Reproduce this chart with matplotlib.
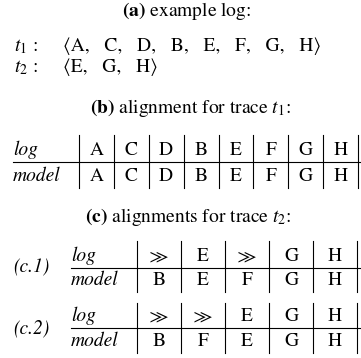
import matplotlib
matplotlib.use('Agg')
from matplotlib import pyplot as plt

plt.rcParams['font.family'] = ['STIXGeneral', 'DejaVu Serif']
plt.rcParams['mathtext.fontset'] = 'stix'

# example log
trace1 = ['A', 'C', 'D', 'B', 'E', 'F', 'G', 'H']
trace2 = ['E', 'G', 'H']

# (b) alignment for t1
b_log = ['A', 'C', 'D', 'B', 'E', 'F', 'G', 'H']
b_model = ['A', 'C', 'D', 'B', 'E', 'F', 'G', 'H']

# (c) alignments for t2
c1_log = ['\u226b', 'E', '\u226b', 'G', 'H']
c1_model = ['B', 'E', 'F', 'G', 'H']
c2_log = ['\u226b', '\u226b', 'E', 'G', 'H']
c2_model = ['B', 'F', 'E', 'G', 'H']

FS = 14
W, H = 361, 358

fig = plt.figure(figsize=(W / 100, H / 100), dpi=100)
ax = fig.add_axes([0, 0, 1, 1])
ax.set_xlim(0, W)
ax.set_ylim(H, 0)
ax.axis('off')


def tuple_str(items):
    return '\u27e8' + ',   '.join(items) + '\u27e9'


def draw_table(ax, x_head, x_first, x_last, top, mid, bottom, log, model):
    n = len(log)
    cw = (x_last - x_first) / n
    ax.plot([x_head, W], [mid, mid], color='k', lw=0.8)
    for i in range(n + 1):
        x = x_first + i * cw
        ax.plot([x, x], [top, bottom], color='k', lw=0.8)
    ax.text(x_head, mid - 7, 'log', fontsize=FS, style='italic', va='baseline')
    ax.text(x_head, bottom - 7, 'model', fontsize=FS, style='italic', va='baseline')
    for i in range(n):
        xc = x_first + (i + 0.5) * cw
        ax.text(xc, mid - 7, log[i], fontsize=FS, ha='center', va='baseline')
        ax.text(xc, bottom - 7, model[i], fontsize=FS, ha='center', va='baseline')


# (a)
ax.text(187, 16, r'$\mathbf{(a)}$ example log:', fontsize=FS, ha='center', va='baseline')
ax.text(14, 51, r'$t_1$ :', fontsize=FS, va='baseline')
ax.text(63, 51, tuple_str(trace1), fontsize=FS, va='baseline')
ax.text(14, 72, r'$t_2$ :', fontsize=FS, va='baseline')
ax.text(63, 72, tuple_str(trace2), fontsize=FS, va='baseline')

# (b)
ax.text(190, 113, r'$\mathbf{(b)}$ alignment for trace $t_1$:', fontsize=FS, ha='center', va='baseline')
draw_table(ax, 13, 79, 358, 135, 162, 188, b_log, b_model)

# (c)
ax.text(188, 222, r'$\mathbf{(c)}$ alignments for trace $t_2$:', fontsize=FS, ha='center', va='baseline')
ax.text(13, 267, '(c.1)', fontsize=FS, style='italic', va='center')
draw_table(ax, 71, 137, 357, 241, 268, 292, c1_log, c1_model)
ax.text(13, 328, '(c.2)', fontsize=FS, style='italic', va='center')
draw_table(ax, 71, 137, 357, 303, 328, 353, c2_log, c2_model)

fig.savefig('out.png', dpi=100)
